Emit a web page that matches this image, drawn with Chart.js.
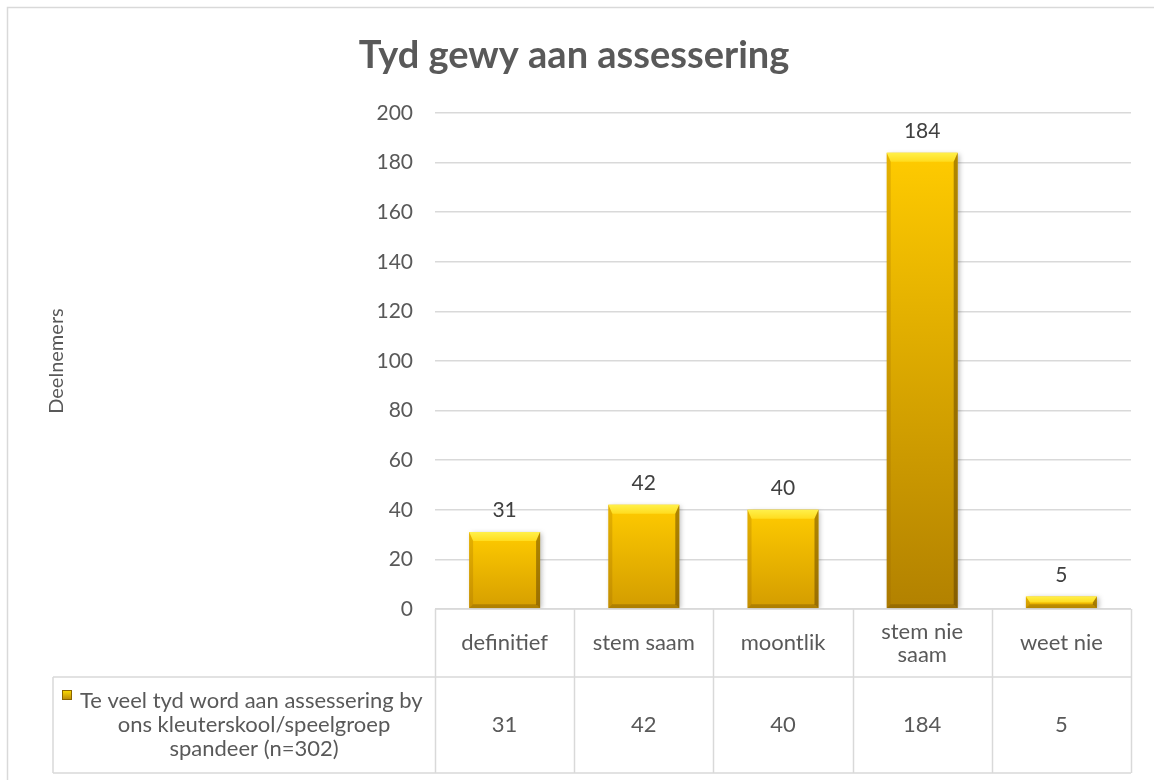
<!DOCTYPE html>
<html>
<head>
<meta charset="utf-8">
<script src="https://cdn.jsdelivr.net/npm/chart.js@4.4.1/dist/chart.umd.min.js"></script>
<style>
  html, body { margin: 0; padding: 0; background: #fff; }
  #wrap { width: 1154px; height: 780px; position: relative; }
</style>
</head>
<body>
<div id="wrap"><canvas id="chart" width="1154" height="780"></canvas></div>
<script>
// chart data
const chartTitle = 'Tyd gewy aan assessering';
const yAxisTitle = 'Deelnemers';
const categories = [['definitief'], ['stem saam'], ['moontlik'], ['stem nie', 'saam'], ['weet nie']];
const values = [31, 42, 40, 184, 5];
const seriesLabel = ['Te veel tyd word aan assessering by', 'ons kleuterskool/speelgroep', 'spandeer (n=302)'];
const yMin = 0;
const yMax = 200;
const yStep = 20;

const FONT = 'Lato, "Open Sans", sans-serif';
const TEXT = '#595959';
const LINE = '#D9D9D9';

function barGradient(ctx, top, bottom, frac) {
  const g = ctx.createLinearGradient(0, top, 0, bottom);
  g.addColorStop(0, '#FFCB00');
  // taller bars fade to a deeper gold at the bottom
  const r = Math.round(0xDC - (0xDC - 0xAE) * frac);
  const gg = Math.round(0xA4 - (0xA4 - 0x7E) * frac);
  g.addColorStop(1, `rgb(${r},${gg},0)`);
  return g;
}

// Draws title, border, bevels, data labels and the data table
const excelLook = {
  id: 'excelLook',
  beforeDraw(chart) {
    const ctx = chart.ctx;
    ctx.save();
    ctx.fillStyle = '#fff';
    ctx.fillRect(0, 0, chart.width, chart.height);
    ctx.strokeStyle = LINE;
    ctx.lineWidth = 1.5;
    ctx.strokeRect(7.5, 7.5, chart.width + 10, chart.height + 10);
    ctx.fillStyle = TEXT;
    ctx.font = 'bold 38px ' + FONT;
    ctx.textAlign = 'center';
    ctx.textBaseline = 'middle';
    ctx.fillText(chartTitle, 574, 56);
    ctx.restore();
  },
  beforeDatasetsDraw(chart) {
    const ctx = chart.ctx;
    ctx.save();
    ctx.shadowColor = 'rgba(0,0,0,0.28)';
    ctx.shadowBlur = 5;
    ctx.shadowOffsetX = 2;
    ctx.shadowOffsetY = 1;
  },
  afterDatasetsDraw(chart) {
    const ctx = chart.ctx;
    ctx.restore();
    const meta = chart.getDatasetMeta(0);
    ctx.save();
    meta.data.forEach((bar, i) => {
      const { x, y, base, width } = bar.getProps(['x', 'y', 'base', 'width'], true);
      const l = x - width / 2, r = x + width / 2, t = y, b = base;
      const h = b - t;
      const tb = Math.min(9, h / 2);
      const bb = Math.min(4, h / 3);
      const sv = 4;
      // top facet
      const tg = ctx.createLinearGradient(0, t, 0, t + tb);
      tg.addColorStop(0, '#FFF04A');
      tg.addColorStop(1, '#FFDC1E');
      ctx.fillStyle = tg;
      ctx.beginPath();
      ctx.moveTo(l, t); ctx.lineTo(r, t); ctx.lineTo(r - sv, t + tb); ctx.lineTo(l + sv, t + tb);
      ctx.closePath(); ctx.fill();
      // left facet
      ctx.fillStyle = 'rgba(150,100,0,0.25)';
      ctx.beginPath();
      ctx.moveTo(l, t); ctx.lineTo(l + sv, t + tb); ctx.lineTo(l + sv, b - bb); ctx.lineTo(l, b);
      ctx.closePath(); ctx.fill();
      // right facet
      ctx.fillStyle = 'rgba(80,50,0,0.45)';
      ctx.beginPath();
      ctx.moveTo(r, t); ctx.lineTo(r - sv, t + tb); ctx.lineTo(r - sv, b - bb); ctx.lineTo(r, b);
      ctx.closePath(); ctx.fill();
      // bottom facet
      ctx.fillStyle = 'rgba(90,60,0,0.3)';
      ctx.beginPath();
      ctx.moveTo(l, b); ctx.lineTo(l + sv, b - bb); ctx.lineTo(r - sv, b - bb); ctx.lineTo(r, b);
      ctx.closePath(); ctx.fill();
      // data label
      ctx.fillStyle = '#404040';
      ctx.font = '21px ' + FONT;
      ctx.textAlign = 'center';
      ctx.textBaseline = 'bottom';
      ctx.fillText(String(values[i]), x, t - 11);
    });
    ctx.restore();
  },
  afterDraw(chart) {
    const ctx = chart.ctx;
    const xs = chart.scales.x;
    const area = chart.chartArea;
    const n = categories.length;
    const step = (area.right - area.left) / n;
    const row0 = area.bottom;
    const row1 = 677;
    const row2 = 773;
    const legendLeft = 53;
    ctx.save();
    ctx.strokeStyle = LINE;
    ctx.lineWidth = 1.5;
    ctx.beginPath();
    ctx.moveTo(area.left, row0); ctx.lineTo(area.right, row0);
    ctx.moveTo(legendLeft, row1); ctx.lineTo(area.right, row1);
    ctx.moveTo(legendLeft, row2); ctx.lineTo(area.right, row2);
    ctx.moveTo(legendLeft, row1); ctx.lineTo(legendLeft, row2);
    for (let i = 0; i <= n; i++) {
      const lx = Math.round(area.left + i * step) + 0.5;
      ctx.moveTo(lx, row0); ctx.lineTo(lx, row2);
    }
    ctx.stroke();

    ctx.fillStyle = TEXT;
    ctx.font = '22px ' + FONT;
    ctx.textAlign = 'center';
    ctx.textBaseline = 'middle';
    categories.forEach((lines, i) => {
      const cx = xs.getPixelForValue(i);
      const mid = (row0 + row1) / 2;
      lines.forEach((ln, j) => {
        ctx.fillText(ln, cx, mid + (j - (lines.length - 1) / 2) * 23);
      });
      ctx.fillText(String(values[i]), cx, (row1 + row2) / 2);
    });

    // legend cell
    const lx0 = 62, ly0 = 690;
    const kg = ctx.createLinearGradient(0, ly0, 0, ly0 + 10);
    kg.addColorStop(0, '#FFE000');
    kg.addColorStop(1, '#B8860B');
    ctx.fillStyle = kg;
    ctx.fillRect(lx0, ly0, 10, 10);
    ctx.strokeStyle = '#8A6500';
    ctx.lineWidth = 1;
    ctx.strokeRect(lx0 + 0.5, ly0 + 0.5, 9, 9);
    ctx.fillStyle = TEXT;
    ctx.textAlign = 'left';
    ctx.fillText(seriesLabel[0], 80, 701);
    ctx.textAlign = 'center';
    ctx.fillText(seriesLabel[1], 254, 725);
    ctx.fillText(seriesLabel[2], 254, 749);
    ctx.restore();
  }
};

new Chart(document.getElementById('chart'), {
  type: 'bar',
  data: {
    labels: categories,
    datasets: [{
      label: seriesLabel.join(' '),
      data: values,
      borderWidth: 0,
      barPercentage: 0.51,
      categoryPercentage: 1,
      backgroundColor(c) {
        const chart = c.chart;
        const ys = chart.scales.y;
        if (!chart.chartArea || !ys) return '#F0B800';
        const top = ys.getPixelForValue(values[c.dataIndex]);
        const base = ys.getPixelForValue(0);
        const frac = (base - top) / (chart.chartArea.bottom - chart.chartArea.top);
        return barGradient(chart.ctx, top, base, frac);
      }
    }]
  },
  options: {
    responsive: false,
    animation: false,
    devicePixelRatio: 1,
    layout: { padding: { left: 0, top: 113, right: 23, bottom: 171 } },
    plugins: {
      legend: { display: false },
      title: { display: false },
      tooltip: { enabled: false }
    },
    scales: {
      x: { display: false },
      y: {
        min: yMin,
        max: yMax,
        ticks: { stepSize: yStep, color: TEXT, font: { family: FONT, size: 21 }, padding: 22 },
        grid: { color: LINE, lineWidth: 1.5, drawTicks: false },
        border: { display: false },
        title: {
          display: true,
          text: yAxisTitle,
          color: TEXT,
          font: { family: FONT, size: 20 },
          padding: { top: 45, bottom: 0 }
        },
        afterFit(scale) { scale.width = 435; }
      }
    }
  },
  plugins: [excelLook]
});
</script>
</body>
</html>
